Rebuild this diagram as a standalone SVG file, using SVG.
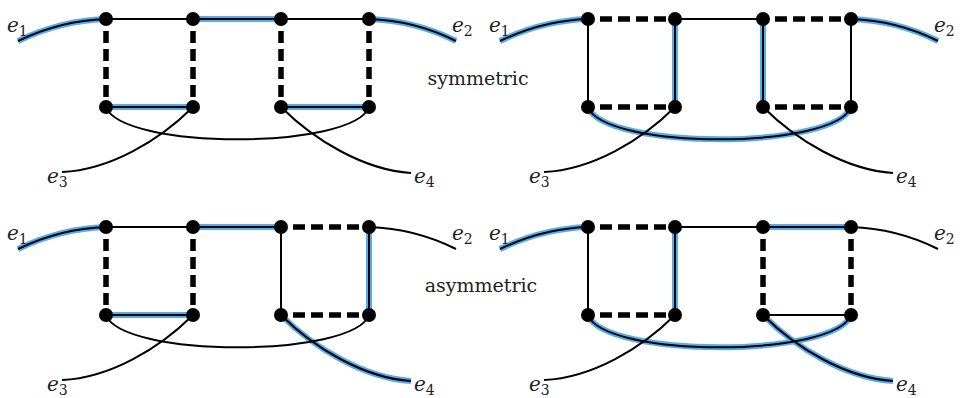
<svg xmlns="http://www.w3.org/2000/svg" width="960" height="398" viewBox="0 0 960 398">
<style>
.hl{fill:none;stroke:#55adf0;stroke-width:6;stroke-linecap:butt}
.ln{fill:none;stroke:#000;stroke-width:2}
.ds{fill:none;stroke:#000;stroke-width:5.5;stroke-dasharray:12 6;stroke-dashoffset:6}
.nd{fill:#000}
.sb{font-style:normal;font-size:14px}
.lab{font-family:"DejaVu Serif",serif;font-style:italic;font-size:20px;fill:#222}
.tx{font-family:"DejaVu Serif",serif;font-size:19px;fill:#222;text-anchor:middle}
</style>
<rect width="960" height="398" fill="#fff"/>

<!-- Panel TL: symmetric left -->
<g id="panel-tl">
<g id="tl-connectors">
<path class="hl" d="M18 41 C45 28 75 20 106 19"/>
<path class="hl" d="M193 19 H281"/>
<path class="hl" d="M369 19 C400 20 430 28 456 41"/>
<path class="hl" d="M106 107 H193"/>
<path class="hl" d="M281 107 H369"/>
<path class="ln" d="M18 41 C45 28 75 20 106 19"/>
<path class="ln" d="M106 19 H193"/>
<path class="ln" d="M193 19 H281"/>
<path class="ln" d="M281 19 H369"/>
<path class="ln" d="M369 19 C400 20 430 28 456 41"/>
<path class="ln" d="M106 107 H193"/>
<path class="ln" d="M281 107 H369"/>
<path class="ln" d="M106 107 C122 150 353 150 369 107"/>
<path class="ln" d="M193 107 C160 140 110 170 62 172"/>
<path class="ln" d="M281 107 C314 140 364 170 411 173"/>
<path class="ds" d="M106 19 V107"/>
<path class="ds" d="M193 19 V107"/>
<path class="ds" d="M281 19 V107"/>
<path class="ds" d="M369 19 V107"/>
</g>
<g id="tl-a1"><circle class="nd" cx="106" cy="19" r="7"/></g>
<g id="tl-a2"><circle class="nd" cx="193" cy="19" r="7"/></g>
<g id="tl-a3"><circle class="nd" cx="281" cy="19" r="7"/></g>
<g id="tl-a4"><circle class="nd" cx="369" cy="19" r="7"/></g>
<g id="tl-b1"><circle class="nd" cx="106" cy="107" r="7"/></g>
<g id="tl-b2"><circle class="nd" cx="193" cy="107" r="7"/></g>
<g id="tl-b3"><circle class="nd" cx="281" cy="107" r="7"/></g>
<g id="tl-b4"><circle class="nd" cx="369" cy="107" r="7"/></g>
<g class="lab">
<text x="7" y="32">e<tspan class="sb" dy="4">1</tspan></text>
<text x="452" y="32">e<tspan class="sb" dy="4">2</tspan></text>
<text x="47" y="183">e<tspan class="sb" dy="4">3</tspan></text>
<text x="414" y="183">e<tspan class="sb" dy="4">4</tspan></text>
</g>
</g>

<!-- Panel TR: symmetric right -->
<g id="panel-tr" transform="translate(482,0)">
<g id="tr-connectors">
<path class="hl" d="M18 41 C45 28 75 20 106 19"/>
<path class="hl" d="M369 19 C400 20 430 28 456 41"/>
<path class="hl" d="M193 19 V107"/>
<path class="hl" d="M281 19 V107"/>
<path class="hl" d="M106 107 C122 150 353 150 369 107"/>
<path class="ln" d="M18 41 C45 28 75 20 106 19"/>
<path class="ln" d="M193 19 H281"/>
<path class="ln" d="M369 19 C400 20 430 28 456 41"/>
<path class="ln" d="M106 19 V107"/>
<path class="ln" d="M193 19 V107"/>
<path class="ln" d="M281 19 V107"/>
<path class="ln" d="M369 19 V107"/>
<path class="ln" d="M106 107 C122 150 353 150 369 107"/>
<path class="ln" d="M193 107 C160 140 110 170 62 172"/>
<path class="ln" d="M281 107 C314 140 364 170 411 173"/>
<path class="ds" d="M106 19 H193"/>
<path class="ds" d="M281 19 H369"/>
<path class="ds" d="M106 107 H193"/>
<path class="ds" d="M281 107 H369"/>
</g>
<g id="tr-a1"><circle class="nd" cx="106" cy="19" r="7"/></g>
<g id="tr-a2"><circle class="nd" cx="193" cy="19" r="7"/></g>
<g id="tr-a3"><circle class="nd" cx="281" cy="19" r="7"/></g>
<g id="tr-a4"><circle class="nd" cx="369" cy="19" r="7"/></g>
<g id="tr-b1"><circle class="nd" cx="106" cy="107" r="7"/></g>
<g id="tr-b2"><circle class="nd" cx="193" cy="107" r="7"/></g>
<g id="tr-b3"><circle class="nd" cx="281" cy="107" r="7"/></g>
<g id="tr-b4"><circle class="nd" cx="369" cy="107" r="7"/></g>
<g class="lab">
<text x="7" y="32">e<tspan class="sb" dy="4">1</tspan></text>
<text x="452" y="32">e<tspan class="sb" dy="4">2</tspan></text>
<text x="47" y="183">e<tspan class="sb" dy="4">3</tspan></text>
<text x="414" y="183">e<tspan class="sb" dy="4">4</tspan></text>
</g>
</g>

<!-- Panel BL: asymmetric left -->
<g id="panel-bl" transform="translate(0,208)">
<g id="bl-connectors">
<path class="hl" d="M18 41 C45 28 75 20 106 19"/>
<path class="hl" d="M193 19 H281"/>
<path class="hl" d="M369 19 V107"/>
<path class="hl" d="M106 107 H193"/>
<path class="hl" d="M281 107 C314 140 364 170 411 173"/>
<path class="ln" d="M18 41 C45 28 75 20 106 19"/>
<path class="ln" d="M106 19 H193"/>
<path class="ln" d="M193 19 H281"/>
<path class="ln" d="M369 19 C400 20 430 28 456 41"/>
<path class="ln" d="M281 19 V107"/>
<path class="ln" d="M369 19 V107"/>
<path class="ln" d="M106 107 H193"/>
<path class="ln" d="M106 107 C122 150 353 150 369 107"/>
<path class="ln" d="M193 107 C160 140 110 170 62 172"/>
<path class="ln" d="M281 107 C314 140 364 170 411 173"/>
<path class="ds" d="M281 19 H369"/>
<path class="ds" d="M106 19 V107"/>
<path class="ds" d="M193 19 V107"/>
<path class="ds" d="M281 107 H369"/>
</g>
<g id="bl-a1"><circle class="nd" cx="106" cy="19" r="7"/></g>
<g id="bl-a2"><circle class="nd" cx="193" cy="19" r="7"/></g>
<g id="bl-a3"><circle class="nd" cx="281" cy="19" r="7"/></g>
<g id="bl-a4"><circle class="nd" cx="369" cy="19" r="7"/></g>
<g id="bl-b1"><circle class="nd" cx="106" cy="107" r="7"/></g>
<g id="bl-b2"><circle class="nd" cx="193" cy="107" r="7"/></g>
<g id="bl-b3"><circle class="nd" cx="281" cy="107" r="7"/></g>
<g id="bl-b4"><circle class="nd" cx="369" cy="107" r="7"/></g>
<g class="lab">
<text x="7" y="32">e<tspan class="sb" dy="4">1</tspan></text>
<text x="452" y="32">e<tspan class="sb" dy="4">2</tspan></text>
<text x="47" y="183">e<tspan class="sb" dy="4">3</tspan></text>
<text x="414" y="183">e<tspan class="sb" dy="4">4</tspan></text>
</g>
</g>

<!-- Panel BR: asymmetric right -->
<g id="panel-br" transform="translate(482,208)">
<g id="br-connectors">
<path class="hl" d="M18 41 C45 28 75 20 106 19"/>
<path class="hl" d="M281 19 H369"/>
<path class="hl" d="M193 19 V107"/>
<path class="hl" d="M106 107 C122 150 353 150 369 107"/>
<path class="hl" d="M281 107 C314 140 364 170 411 173"/>
<path class="ln" d="M18 41 C45 28 75 20 106 19"/>
<path class="ln" d="M193 19 H281"/>
<path class="ln" d="M281 19 H369"/>
<path class="ln" d="M369 19 C400 20 430 28 456 41"/>
<path class="ln" d="M106 19 V107"/>
<path class="ln" d="M193 19 V107"/>
<path class="ln" d="M281 107 H369"/>
<path class="ln" d="M106 107 C122 150 353 150 369 107"/>
<path class="ln" d="M193 107 C160 140 110 170 62 172"/>
<path class="ln" d="M281 107 C314 140 364 170 411 173"/>
<path class="ds" d="M106 19 H193"/>
<path class="ds" d="M281 19 V107"/>
<path class="ds" d="M369 19 V107"/>
<path class="ds" d="M106 107 H193"/>
</g>
<g id="br-a1"><circle class="nd" cx="106" cy="19" r="7"/></g>
<g id="br-a2"><circle class="nd" cx="193" cy="19" r="7"/></g>
<g id="br-a3"><circle class="nd" cx="281" cy="19" r="7"/></g>
<g id="br-a4"><circle class="nd" cx="369" cy="19" r="7"/></g>
<g id="br-b1"><circle class="nd" cx="106" cy="107" r="7"/></g>
<g id="br-b2"><circle class="nd" cx="193" cy="107" r="7"/></g>
<g id="br-b3"><circle class="nd" cx="281" cy="107" r="7"/></g>
<g id="br-b4"><circle class="nd" cx="369" cy="107" r="7"/></g>
<g class="lab">
<text x="7" y="32">e<tspan class="sb" dy="4">1</tspan></text>
<text x="452" y="32">e<tspan class="sb" dy="4">2</tspan></text>
<text x="47" y="183">e<tspan class="sb" dy="4">3</tspan></text>
<text x="414" y="183">e<tspan class="sb" dy="4">4</tspan></text>
</g>
</g>

<text class="tx" x="478" y="85">symmetric</text>
<text class="tx" x="481" y="292">asymmetric</text>
</svg>
